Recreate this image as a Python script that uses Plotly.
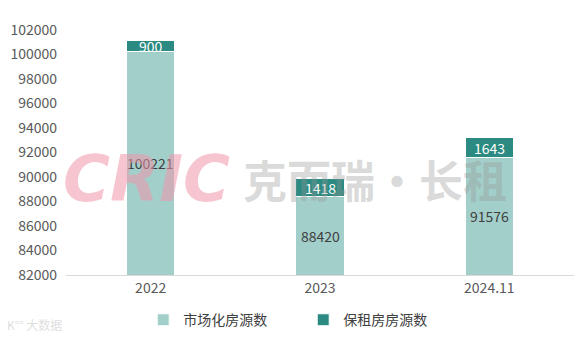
import plotly.graph_objects as go

categories = ["2022", "2023", "2024.11"]
market = [100221, 88420, 91576]
baozu = [900, 1418, 1643]
series_names = ["市场化房源数", "保租房房源数"]
y_ticks = list(range(82000, 102001, 2000))
y_min, y_max = 82000, 102000

light = "#A3CFCA"
dark = "#2B8A81"
font = "Noto Sans CJK SC"

fig = go.Figure()
fig.add_trace(go.Bar(
    x=categories, y=market, name=series_names[0], marker_color=light,
    marker_line=dict(color="white", width=1),
))
fig.add_trace(go.Bar(
    x=categories, y=baozu, name=series_names[1], marker_color=dark,
    marker_line=dict(color="white", width=1),
))

# value labels (centre of the visible part of each segment); x = category index
for i, (m, b) in enumerate(zip(market, baozu)):
    fig.add_annotation(x=i, y=(max(y_min, 0) + m) / 2, text=str(m), showarrow=False,
                       font=dict(family=font, size=14, color="#404040"))
    fig.add_annotation(x=i, y=m + b / 2, text=str(b), showarrow=False,
                       font=dict(family=font, size=14, color="white"))

fig.update_layout(
    barmode="stack", bargap=0.716,
    width=578, height=337,
    margin=dict(l=66, r=4, t=30, b=62, autoexpand=False),
    plot_bgcolor="white", paper_bgcolor="white",
    font=dict(family=font, size=14, color="#595959"),
    showlegend=True,
    legend=dict(orientation="h", x=0.152, xanchor="left", yref="container", y=0.05, yanchor="middle",
                font=dict(size=14, color="#404040"), traceorder="normal",
                entrywidth=115, itemwidth=30),
)
fig.update_yaxes(range=[y_min, y_max], tickvals=y_ticks, ticktext=[str(v) for v in y_ticks],
                 showgrid=False, zeroline=False, showline=False, ticks="",
                 tickfont=dict(size=14, color="#595959"), ticklabelstandoff=8)
fig.update_xaxes(type="category", categoryorder="array", categoryarray=categories,
                 range=[-0.5, len(categories) - 0.5],
                 showline=True, linecolor="#D9D9D9", linewidth=1, ticks="",
                 tickfont=dict(size=14, color="#595959"))

# watermark
fig.add_annotation(xref="paper", yref="paper", x=-0.01, y=0.39, xanchor="left", yanchor="middle",
                   text="<b><i>CRIC</i></b>", showarrow=False,
                   font=dict(family="DejaVu Sans", size=64, color="rgba(238,150,170,0.55)"))
fig.add_annotation(xref="paper", yref="paper", x=0.345, y=0.39, xanchor="left", yanchor="middle",
                   text="<b>克而瑞·长租</b>", showarrow=False,
                   font=dict(family=font, size=44, color="rgba(150,150,150,0.35)"))
fig.add_annotation(xref="paper", yref="paper", x=-0.12, y=-0.2, xanchor="left", yanchor="middle",
                   text="K°° 大数据", showarrow=False,
                   font=dict(family=font, size=12, color="rgba(200,200,200,0.6)"))

fig.write_html("out.html")
